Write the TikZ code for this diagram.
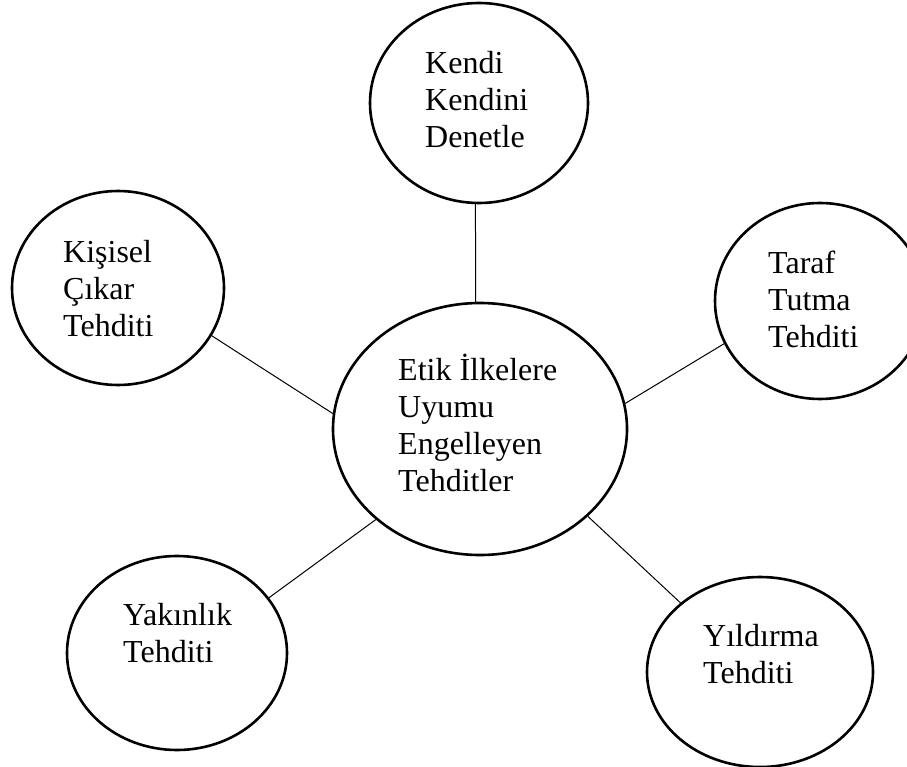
\documentclass[tikz,border=0pt]{standalone}
\usepackage{fontspec}
\setmainfont{Liberation Serif}
\usetikzlibrary{shapes.geometric}
\begin{document}
\begin{tikzpicture}[x=1pt,y=-1pt,
  ell/.style={draw=black, line width=2.6pt, ellipse, inner sep=0pt, fill=none},
  lbl/.style={anchor=base west, inner sep=0pt, align=left, font=\fontsize{32}{37}\selectfont},
  link/.style={draw=black, line width=1pt}]
\clip (0,0) rectangle (907,767);
\fill[white] (0,0) rectangle (907,767);
% ellipses
\node[ell, minimum width=218pt, minimum height=200pt] (top) at (479,103) {};
\node[ell, minimum width=212pt, minimum height=194pt] (left) at (118,288) {};
\node[ell, minimum width=210pt, minimum height=196pt] (right) at (820,301) {};
\node[ell, minimum width=294pt, minimum height=252pt] (center) at (480,429) {};
\node[ell, minimum width=220pt, minimum height=194pt] (bl) at (177,653) {};
\node[ell, minimum width=226pt, minimum height=190pt] (br) at (760,672) {};
% texts (anchored at the baseline of the last line)
\node[lbl] (ttop) at (425,148) {Kendi\\Kendini\\Denetle};
\node[lbl] (tleft) at (63,336) {Kişisel\\Çıkar\\Tehditi};
\node[lbl] (tright) at (768,347) {Taraf\\Tutma\\Tehditi};
\node[lbl] (tcenter) at (398,491) {Etik İlkelere\\Uyumu\\Engelleyen\\Tehditler};
\node[lbl] (tbl) at (123,662) {Yakınlık\\Tehditi};
\node[lbl] (tbr) at (703,683) {Yıldırma\\Tehditi};
% connectors
\draw[link] (top.-92.3) -- (center.92.3);
\draw[link] (left.-27.5) -- (center.174.5);
\draw[link] (right.-156.6) -- (center.10);
\draw[link] (bl.31.4) -- (center.-139.5);
\draw[link] (br.139.2) -- (center.-39.8);
\end{tikzpicture}
\end{document}
